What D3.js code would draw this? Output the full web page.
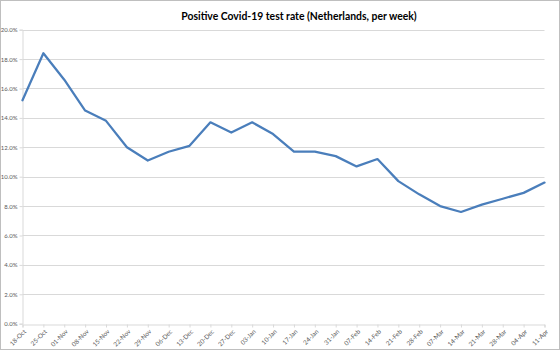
<!DOCTYPE html>
<html>
<head>
<meta charset="utf-8">
<script src="https://cdn.jsdelivr.net/npm/d3@7"></script>
<style>
  html, body { margin: 0; padding: 0; background: #fff; }
  svg { display: block; }
</style>
</head>
<body>
<svg id="chart" width="560" height="350"></svg>
<script>
// Weekly positive test rate (%), one value per week
const weeks = ["18-Oct","25-Oct","01-Nov","08-Nov","15-Nov","22-Nov","29-Nov","06-Dec","13-Dec",
  "20-Dec","27-Dec","03-Jan","10-Jan","17-Jan","24-Jan","31-Jan","07-Feb","14-Feb","21-Feb",
  "28-Feb","07-Mar","14-Mar","21-Mar","28-Mar","04-Apr","11-Apr"];
const positiveRate = [15.2, 18.4, 16.6, 14.5, 13.8, 12.0, 11.1, 11.7, 12.1,
  13.7, 13.0, 13.7, 12.9, 11.7, 11.7, 11.4, 10.7, 11.2, 9.7,
  8.8, 8.0, 7.6, 8.1, 8.5, 8.9, 9.6];
const yTicks = [0, 2, 4, 6, 8, 10, 12, 14, 16, 18, 20];
const title = "Positive Covid-19 test rate (Netherlands, per week)";

const W = 560, H = 350;
const plot = { left: 22.5, right: 544.5, top: 29.7, bottom: 323.7 };
const font = "Lato, 'Open Sans', sans-serif";

const svg = d3.select("#chart");

// outer chart frame
svg.append("rect")
  .attr("x", 0.5).attr("y", 0.5)
  .attr("width", W - 1).attr("height", H - 1)
  .attr("fill", "#fff").attr("stroke", "#bfbfbf");

const x = d3.scalePoint().domain(weeks).range([plot.left, plot.right]);
const y = d3.scaleLinear().domain([0, 20]).range([plot.bottom, plot.top]);

// horizontal gridlines
svg.append("g")
  .selectAll("line")
  .data(yTicks.filter(d => d > 0))
  .join("line")
  .attr("x1", plot.left).attr("x2", plot.right)
  .attr("y1", d => Math.round(y(d)) + 0.5).attr("y2", d => Math.round(y(d)) + 0.5)
  .attr("stroke", "#d9d9d9").attr("stroke-width", 1);

// y axis
const yAxis = d3.axisLeft(y).tickValues(yTicks).tickSize(3).tickPadding(2)
  .tickFormat(d => d.toFixed(1) + "%");
const gy = svg.append("g").attr("transform", `translate(${plot.left},0)`).call(yAxis);
gy.select(".domain").attr("stroke", "#d9d9d9");
gy.selectAll(".tick line").attr("stroke", "#d9d9d9");
gy.selectAll(".tick text")
  .attr("fill", "#595959").attr("font-size", 6).attr("font-family", font);

// x axis
const xAxis = d3.axisBottom(x).tickSize(3).tickPadding(2);
const gx = svg.append("g").attr("transform", `translate(0,${Math.round(plot.bottom) + 0.5})`).call(xAxis);
gx.select(".domain").attr("stroke", "#d9d9d9");
gx.selectAll(".tick line").attr("stroke", "#d9d9d9");
gx.selectAll(".tick text")
  .attr("fill", "#595959").attr("font-size", 6.3).attr("font-family", font)
  .attr("text-anchor", "end")
  .attr("dy", "0.35em")
  .attr("transform", "translate(2,6) rotate(-45)")
  .attr("y", 0).attr("x", 0);

// series line
const line = d3.line()
  .x((d, i) => x(weeks[i]))
  .y(d => y(d));
svg.append("path")
  .datum(positiveRate)
  .attr("d", line)
  .attr("fill", "none")
  .attr("stroke", "#4a7ebb")
  .attr("stroke-width", 2.25)
  .attr("stroke-linejoin", "round")
  .attr("stroke-linecap", "round");

// title
svg.append("text")
  .attr("x", 299).attr("y", 19.5)
  .attr("text-anchor", "middle")
  .attr("font-family", font)
  .attr("font-weight", "bold")
  .attr("font-size", 10.4)
  .attr("fill", "#000")
  .text(title);
</script>
</body>
</html>
